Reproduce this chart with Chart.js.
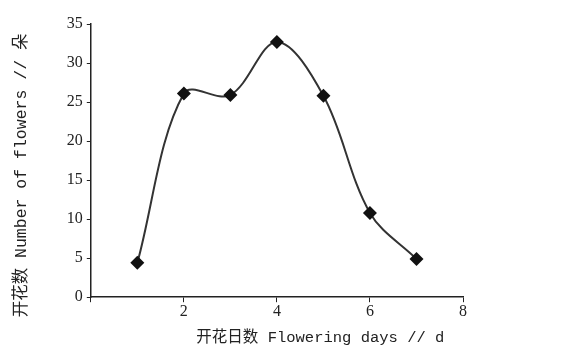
<!DOCTYPE html>
<html>
<head>
<meta charset="utf-8">
<script src="https://cdn.jsdelivr.net/npm/chart.js@4"></script>
<style>
  html, body { margin: 0; padding: 0; background: #fff; }
  #wrap { width: 583px; height: 358px; }
</style>
</head>
<body>
<div id="wrap"><canvas id="flowerCanvas" width="583" height="358"></canvas></div>
<script>
// Flowering days vs number of flowers
const days = [1, 2, 3, 4, 5, 6, 7];
const flowers = [4.4, 26.1, 25.9, 32.7, 25.8, 10.8, 4.9];
const xTicks = [0, 2, 4, 6, 8];
const yTicks = [0, 5, 10, 15, 20, 25, 30, 35];

const serif = "'Liberation Serif', 'Noto Sans CJK SC', serif";
const mono = "'Liberation Mono', 'Noto Sans CJK SC', monospace";
const ink = '#222';

const points = days.map((d, i) => ({ x: d, y: flowers[i] }));

new Chart(document.getElementById('flowerCanvas').getContext('2d'), {
    type: 'line',
    data: {
        datasets: [{
            data: points,
            borderColor: '#333',
            borderWidth: 2,
            backgroundColor: '#111',
            pointStyle: 'rectRot',
            pointRadius: 7,
            pointBorderWidth: 0,
            tension: 0.35,
            fill: false
        }]
    },
    options: {
        responsive: false,
        animation: false,
        layout: { padding: { left: 12, right: 120, top: 24, bottom: 11 } },
        plugins: { legend: { display: false }, tooltip: { enabled: false } },
        scales: {
            x: {
                type: 'linear',
                min: xTicks[0],
                max: xTicks[xTicks.length - 1],
                afterBuildTicks: s => { s.ticks = xTicks.map(v => ({ value: v })); },
                grid: { drawOnChartArea: false, tickLength: 5, color: ink },
                border: { color: ink, width: 1.5 },
                ticks: {
                    color: ink,
                    font: { family: serif, size: 16 },
                    padding: 0,
                    callback: v => (v === 0 ? '' : v)
                },
                title: {
                    display: true,
                    text: '开花日数 Flowering days // d  ',
                    color: ink,
                    align: 'end',
                    font: { family: mono, size: 15.5 },
                    padding: { top: 7, bottom: 0 }
                }
            },
            y: {
                min: yTicks[0],
                max: yTicks[yTicks.length - 1],
                afterBuildTicks: s => { s.ticks = yTicks.map(v => ({ value: v })); },
                grid: { drawOnChartArea: false, tickLength: 4, color: ink },
                border: { color: ink, width: 1.5 },
                ticks: {
                    color: ink,
                    font: { family: serif, size: 16 },
                    padding: 4
                },
                title: {
                    display: true,
                    text: '开花数 Number of flowers // 朵   ',
                    color: ink,
                    font: { family: mono, size: 16.5 },
                    padding: { top: 0, bottom: 31 }
                }
            }
        }
    }
});
</script>
</body>
</html>
